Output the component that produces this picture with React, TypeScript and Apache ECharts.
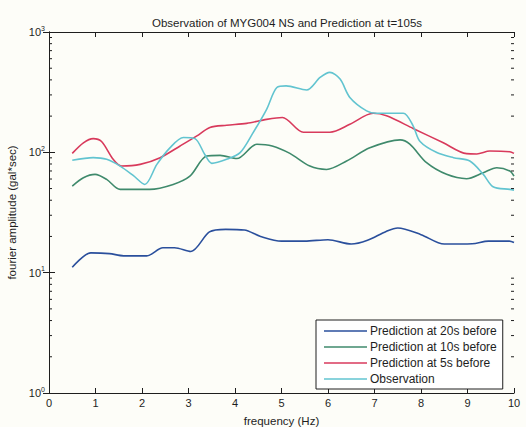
import React, { useEffect, useRef } from "react";
import * as echarts from "echarts";

const titleText = "Observation of MYG004 NS and Prediction at t=105s";
const xName = "frequency (Hz)";
const yName = "fourier amplitude (gal*sec)";
const seriesNames = [
  "Prediction at 20s before",
  "Prediction at 10s before",
  "Prediction at 5s before",
  "Observation",
];
const seriesColors = ["#2a4f9c", "#3f8a6c", "#d83a5c", "#62c4d0"];

const pred20: [number, number][] = [
  [0.5, 11.1], [0.9, 14.6], [1.3, 14.4], [1.6, 13.8], [2.1, 13.8], [2.45, 16.1],
  [2.7, 16.1], [3.05, 15.0], [3.45, 21.8], [3.8, 22.9], [4.2, 22.6], [4.55, 20.0],
  [5.0, 18.3], [5.5, 18.3], [6.0, 18.8], [6.5, 17.3], [6.85, 18.6], [7.25, 22.0],
  [7.5, 23.5], [8.0, 20.7], [8.5, 17.3], [9.1, 17.4], [9.45, 18.3], [9.9, 18.3],
  [10.0, 17.8],
];
const pred10: [number, number][] = [
  [0.5, 52.4], [0.74, 61.5], [0.99, 65.6], [1.24, 59.6], [1.53, 49.2], [2.17, 49.2],
  [2.67, 54.1], [3.03, 63.3], [3.39, 93.1], [3.68, 94.3], [4.04, 88.8], [4.47, 116.6],
  [4.8, 113], [5.18, 98], [5.61, 76.9], [5.97, 72.1], [6.4, 84.7], [6.9, 109],
  [7.55, 127], [7.76, 117], [8.12, 82], [8.55, 65.6], [8.98, 60.4], [9.34, 67.8],
  [9.63, 74.5], [9.91, 70], [10.0, 63.3],
];
const pred5: [number, number][] = [
  [0.5, 98], [0.74, 120], [0.95, 130], [1.13, 123], [1.38, 87.5], [1.56, 76.9],
  [1.96, 79.4], [2.39, 90.3], [2.82, 113], [3.18, 137], [3.46, 161], [3.82, 168],
  [4.25, 174], [4.68, 188], [5.02, 195], [5.47, 147], [6.04, 147], [6.47, 171],
  [6.97, 211], [7.26, 201], [7.83, 158], [8.48, 120], [8.98, 97.5], [9.2, 97],
  [9.48, 102.5], [9.91, 101], [10.0, 98],
];
const observation: [number, number][] = [
  [0.5, 85.8], [0.95, 90.3], [1.24, 87.5], [1.53, 76.9], [1.81, 64.3], [2.06, 54.1],
  [2.32, 79.4], [2.6, 109], [2.89, 133], [3.14, 130], [3.35, 96], [3.5, 81],
  [3.82, 87.5], [4.11, 99.5], [4.39, 146], [4.68, 228], [4.9, 346], [5.1, 357],
  [5.54, 330], [5.83, 419], [6.04, 462], [6.26, 406], [6.47, 286], [6.83, 221],
  [7.05, 211], [7.62, 211], [7.83, 166], [7.98, 123], [8.34, 99.5], [8.7, 90.3],
  [9.05, 84.7], [9.34, 65.6], [9.55, 51.8], [9.91, 49.2], [10.0, 48.5],
];
const minorTickValues = [
  2, 3, 4, 5, 6, 7, 8, 9,
  20, 30, 40, 50, 60, 70, 80, 90,
  200, 300, 400, 500, 600, 700, 800, 900,
];

const FONT = "Liberation Sans, Arial, sans-serif";
const INK = "#1e1e1e";
const LINE_ICON = "path://M0,0 L60,0 L60,2 L0,2 Z";

export default function App() {
  const ref = useRef<HTMLDivElement>(null);
  useEffect(() => {
    if (!ref.current) return;
    const chart = echarts.init(ref.current, undefined, { renderer: "svg" });
    const allData = [pred20, pred10, pred5, observation];
    const lineSeries = allData.map((d, i) => ({
      name: seriesNames[i],
      type: "line" as const,
      data: d,
      symbol: "none",
      smooth: 0.3,
      lineStyle: { color: seriesColors[i], width: 1.6 },
      itemStyle: { color: seriesColors[i] },
      z: 3,
    }));
    const yLabel = {
      fontFamily: FONT,
      color: INK,
      margin: 4,
      formatter: (v: number) => `{b|10}{s|${Math.round(Math.log10(v))}}`,
      rich: {
        b: { fontSize: 11, fontFamily: FONT, color: INK },
        s: { fontSize: 7, fontFamily: FONT, color: INK, padding: [0, 0, 8, 0] },
      },
    };
    chart.setOption({
      animation: false,
      backgroundColor: "#fdfdf8",
      title: {
        text: titleText,
        left: 282,
        top: 12,
        textAlign: "center",
        textStyle: { fontSize: 11.5, fontWeight: "normal", fontFamily: FONT, color: INK },
      },
      grid: { left: 49, right: 12, top: 32, bottom: 34, outerBoundsMode: "none" },
      legend: {
        data: seriesNames.map((n) => ({ name: n, icon: LINE_ICON })),
        orient: "vertical",
        left: 316,
        top: 320,
        padding: [5, 6, 4, 8],
        itemGap: 4,
        itemWidth: 43,
        itemHeight: 12,
        symbolKeepAspect: true,
        backgroundColor: "#ffffff",
        borderColor: INK,
        borderWidth: 1,
        borderRadius: 0,
        textStyle: {
          fontSize: 12,
          lineHeight: 12,
          fontFamily: FONT,
          color: INK,
          padding: [0, 0, 0, -2],
        },
        selectedMode: false,
        z: 10,
      },
      xAxis: [
        {
          type: "value",
          min: 0,
          max: 10,
          interval: 1,
          name: xName,
          nameLocation: "middle",
          nameGap: 22,
          nameTextStyle: { fontSize: 11.5, fontFamily: FONT, color: INK },
          axisLine: { lineStyle: { color: INK, width: 1 } },
          axisTick: { inside: true, length: 5, lineStyle: { color: INK } },
          axisLabel: { fontSize: 11, fontFamily: FONT, color: INK, margin: 4 },
          splitLine: { show: false },
        },
        {
          type: "value",
          position: "top",
          min: 0,
          max: 10,
          interval: 1,
          axisLine: { show: true, lineStyle: { color: INK, width: 1 } },
          axisTick: { show: true, inside: true, length: 5, lineStyle: { color: INK } },
          axisLabel: { show: false },
          splitLine: { show: false },
        },
      ],
      yAxis: [
        {
          type: "log",
          logBase: 10,
          min: 1,
          max: 1000,
          name: yName,
          nameLocation: "middle",
          nameGap: 23,
          nameRotate: 90,
          nameTextStyle: { fontSize: 11.5, fontFamily: FONT, color: INK },
          axisLine: { show: true, lineStyle: { color: INK, width: 1 } },
          axisTick: { show: true, inside: true, length: 6, lineStyle: { color: INK } },
          axisLabel: yLabel,
          splitLine: { show: false },
        },
        {
          type: "log",
          logBase: 10,
          min: 1,
          max: 1000,
          position: "right",
          axisLine: { show: true, lineStyle: { color: INK, width: 1 } },
          axisTick: { show: true, inside: true, length: 6, lineStyle: { color: INK } },
          axisLabel: { show: false },
          splitLine: { show: false },
        },
      ],
      series: [
        ...lineSeries,
        {
          name: "minorTicks",
          type: "custom",
          data: minorTickValues.map((v) => [0, v]),
          encode: { x: 0, y: 1 },
          silent: true,
          clip: false,
          z: 4,
          renderItem: (params: any, api: any) => {
            const v = api.value(1);
            const l = api.coord([0, v]);
            const r = api.coord([10, v]);
            const st = { stroke: INK, lineWidth: 1 };
            return {
              type: "group",
              children: [
                { type: "line", shape: { x1: l[0], y1: l[1], x2: l[0] + 3, y2: l[1] }, style: st },
                { type: "line", shape: { x1: r[0] - 3, y1: r[1], x2: r[0], y2: r[1] }, style: st },
              ],
            };
          },
        },
      ],
    });
    return () => chart.dispose();
  }, []);
  return (
    <div
      ref={ref}
      style={{ position: "fixed", left: 0, top: 0, width: 526, height: 427 }}
    />
  );
}
